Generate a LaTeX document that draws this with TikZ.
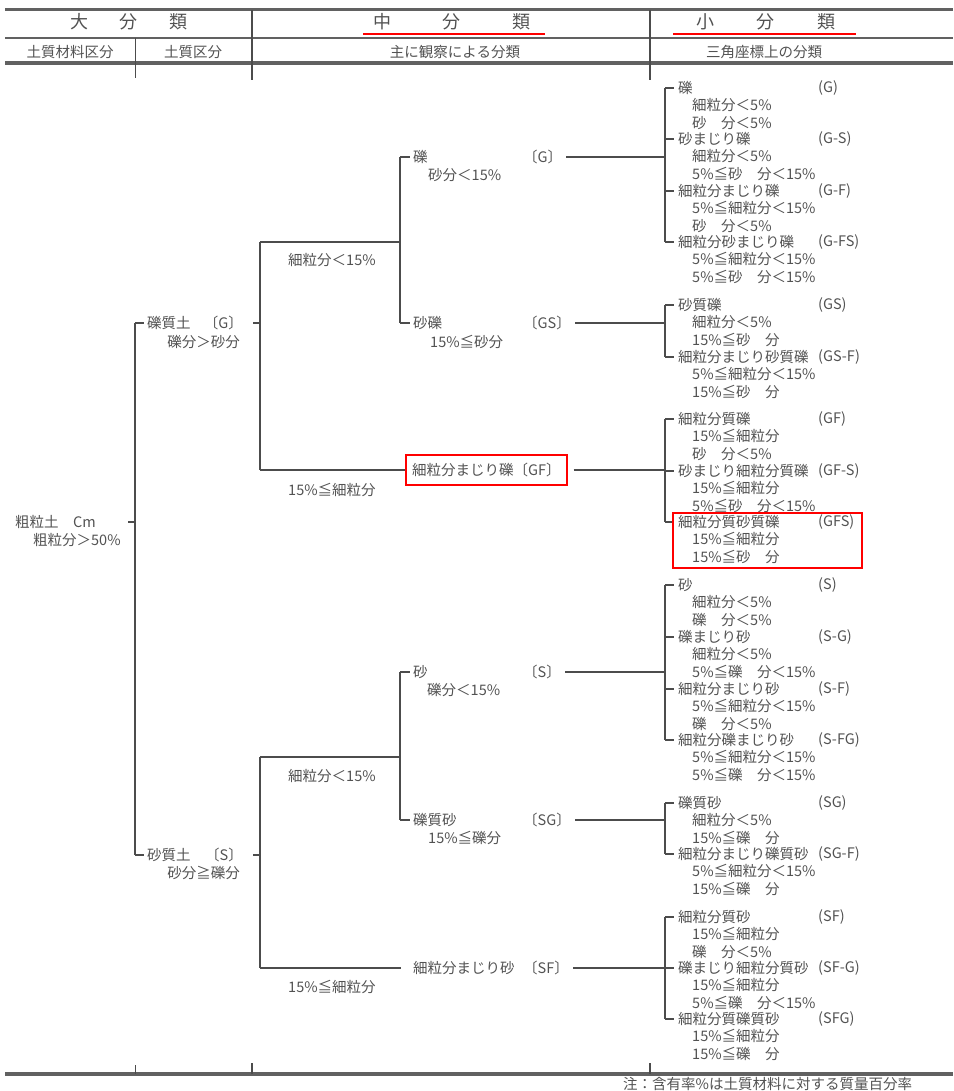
\documentclass[tikz,border=0pt]{standalone}
\usepackage{fontspec}
\newfontfamily\jp{Noto Sans CJK JP}
\usetikzlibrary{positioning}

\tikzset{
  txt/.style={anchor=west, inner sep=0pt, text=black!68, font=\jp\fontsize{14.5}{17}\selectfont},
  txtr/.style={txt, anchor=east},
  txtc/.style={txt, anchor=center},
  headtxt/.style={inner sep=0pt, text=black!68, font=\jp\fontsize{18}{20}\selectfont},
  conn/.style={draw=black!70, line width=1.3pt},
  hrule/.style={draw=black!62, line width=3pt},
  redline/.style={draw=red, line width=2.5pt},
}

\begin{document}
\begin{tikzpicture}[x=1pt, y=-1pt]
  \useasboundingbox (0,0) rectangle (953,1091);

  % Header
  \draw[hrule] (5,10) -- (953,10);
  \draw[hrule, line width=2.5pt] (5,38) -- (953,38);
  \draw[hrule, line width=3.5pt] (5,63) -- (953,63);
  \draw[conn, line width=2.5pt] (252,10) -- (252,80);
  \draw[conn, line width=2.5pt] (650,10) -- (650,80);
  \draw[conn, line width=0.9pt] (135,38) -- (135,78);

  \node[headtxt] (daibunrui) at (129,22) {大\hspace{32pt}分\hspace{32pt}類};
  \node[headtxt] (chubunrui) at (452,22) {中\hspace{52pt}分\hspace{52pt}類};
  \node[headtxt] (shobunrui) at (766,22) {小\hspace{43pt}分\hspace{43pt}類};
  \node[txtc] (zairyo) at (70,52) {土質材料区分};
  \node[txtc] (doshitsu) at (193,52) {土質区分};
  \node[txtc] (kansatsu) at (455,52) {主に観察による分類};
  \node[txtc] (sankaku) at (764,52) {三角座標上の分類};
  \draw[redline] (363,34) -- (545,34);
  \draw[redline] (673,34) -- (856,34);

  % 大分類
  \node[txt] (cm) at (15,522) {粗粒土　Cm};
  \node[txt] (cmsub) at (33,540) {粗粒分＞50\%};
  \draw[conn] (128,522) -- (135,522);
  \draw[conn] (135,323) -- (135,855);

  \node[txt] (gsoil) at (147,323) {礫質土};
  \node[txtr] (gsoilc) at (243,323) {〔G〕};
  \node[txtr] (gsoilsub) at (240,342) {礫分＞砂分};
  \draw[conn] (135,323) -- ([xshift=-3pt]gsoil.west);
  \draw[conn] (253,323) -- (260,323);

  \node[txt] (ssoil) at (147,855) {砂質土};
  \node[txtr] (ssoilc) at (243,855) {〔S〕};
  \node[txtr] (ssoilsub) at (240,873) {砂分≧礫分};
  \draw[conn] (135,855) -- ([xshift=-3pt]ssoil.west);
  \draw[conn] (253,855) -- (260,855);

  % 中分類 (G)
  \draw[conn] (260,242) -- (260,470);
  \draw[conn] (260,242) -- (400,242);
  \node[txt] (gfine) at (288,260) {細粒分＜15\%};
  \draw[conn] (400,157) -- (400,323);

  \node[txt] (gravel) at (413,157) {礫};
  \node[txt] (gravelsub) at (428,175) {砂分＜15\%};
  \node[txt] (gravelc) at (523,157) {〔G〕};
  \draw[conn] (400,157) -- ([xshift=-3pt]gravel.west);
  \draw[conn] ([xshift=4pt]gravelc.east) -- (665,157);

  \node[txt] (sgravel) at (413,323) {砂礫};
  \node[txt] (sgravelsub) at (430,342) {15\%≦砂分};
  \node[txt] (sgravelc) at (523,323) {〔GS〕};
  \draw[conn] (400,323) -- ([xshift=-3pt]sgravel.west);
  \draw[conn] ([xshift=4pt]sgravelc.east) -- (665,323);

  \node[txt, draw=red, line width=2.2pt, inner xsep=6pt, inner ysep=8pt] (gf) at (405,470) {細粒分まじり礫〔GF〕};
  \node[txt] (gfsub) at (288,490) {15\%≦細粒分};
  \draw[conn] (260,470) -- (gf.west);
  \draw[conn] ([xshift=6pt]gf.east) -- (665,470);

  % 中分類 (S)
  \draw[conn] (260,757) -- (260,968);
  \draw[conn] (260,757) -- (400,757);
  \node[txt] (sfine) at (288,776) {細粒分＜15\%};
  \draw[conn] (400,672) -- (400,820);

  \node[txt] (sand) at (413,672) {砂};
  \node[txt] (sandsub) at (427,690) {礫分＜15\%};
  \node[txt] (sandc) at (523,672) {〔S〕};
  \draw[conn] (400,672) -- ([xshift=-3pt]sand.west);
  \draw[conn] ([xshift=4pt]sandc.east) -- (665,672);

  \node[txt] (gsand) at (413,820) {礫質砂};
  \node[txt] (gsandsub) at (428,838) {15\%≦礫分};
  \node[txt] (gsandc) at (523,820) {〔SG〕};
  \draw[conn] (400,820) -- ([xshift=-3pt]gsand.west);
  \draw[conn] ([xshift=4pt]gsandc.east) -- (665,820);

  \node[txt] (sfn) at (413,968) {細粒分まじり砂};
  \node[txt] (sfc) at (523,968) {〔SF〕};
  \node[txt] (sfsub) at (288,987) {15\%≦細粒分};
  \draw[conn] (260,968) -- ([xshift=-12pt]sfn.west);
  \draw[conn] ([xshift=4pt]sfc.east) -- (665,968);

  % 小分類 brackets
  \draw[conn] (665,88) -- (665,242);
  \draw[conn] (665,305) -- (665,357);
  \draw[conn] (665,419) -- (665,522);
  \draw[conn] (665,585) -- (665,740);
  \draw[conn] (665,803) -- (665,854);
  \draw[conn] (665,917) -- (665,1019);

  \foreach \y/\nm/\cd/\ca/\cb in {
      88/礫/(G)/細粒分＜5\%/砂　分＜5\%,
      139/砂まじり礫/(G-S)/細粒分＜5\%/5\%≦砂　分＜15\%,
      191/細粒分まじり礫/(G-F)/5\%≦細粒分＜15\%/砂　分＜5\%,
      242/細粒分砂まじり礫/(G-FS)/5\%≦細粒分＜15\%/5\%≦砂　分＜15\%,
      305/砂質礫/(GS)/細粒分＜5\%/15\%≦砂　分,
      357/細粒分まじり砂質礫/(GS-F)/5\%≦細粒分＜15\%/15\%≦砂　分,
      419/細粒分質礫/(GF)/15\%≦細粒分/砂　分＜5\%,
      471/砂まじり細粒分質礫/(GF-S)/15\%≦細粒分/5\%≦砂　分＜15\%,
      522/細粒分質砂質礫/(GFS)/15\%≦細粒分/15\%≦砂　分,
      585/砂/(S)/細粒分＜5\%/礫　分＜5\%,
      637/礫まじり砂/(S-G)/細粒分＜5\%/5\%≦礫　分＜15\%,
      689/細粒分まじり砂/(S-F)/5\%≦細粒分＜15\%/礫　分＜5\%,
      740/細粒分礫まじり砂/(S-FG)/5\%≦細粒分＜15\%/5\%≦礫　分＜15\%,
      803/礫質砂/(SG)/細粒分＜5\%/15\%≦礫　分,
      854/細粒分まじり礫質砂/(SG-F)/5\%≦細粒分＜15\%/15\%≦礫　分,
      917/細粒分質砂/(SF)/15\%≦細粒分/礫　分＜5\%,
      968/礫まじり細粒分質砂/(SF-G)/15\%≦細粒分/5\%≦礫　分＜15\%,
      1019/細粒分質礫質砂/(SFG)/15\%≦細粒分/15\%≦礫　分}
  {
    \node[txt] (s\y) at (678,\y) {\nm};
    \node[txt] (c\y) at (818,\y) {\cd};
    \node[txt] (a\y) at (692,\y+17.3) {\ca};
    \node[txt] (b\y) at (692,\y+34.6) {\cb};
    \draw[conn] (665,\y) -- ([xshift=-4pt]s\y.west);
  }
  \draw[redline] (673,513) rectangle (862,568);

  % Bottom rule and note
  \draw[hrule, line width=3.5pt] (5,1074) -- (953,1074);
  \draw[conn, line width=0.9pt] (135,1065) -- (135,1074);
  \draw[conn, line width=2.5pt] (252,1063) -- (252,1074);
  \draw[conn, line width=2.5pt] (650,1063) -- (650,1074);
  \node[txt] (note) at (623,1084) {注：含有率\%は土質材料に対する質量百分率};
\end{tikzpicture}
\end{document}
